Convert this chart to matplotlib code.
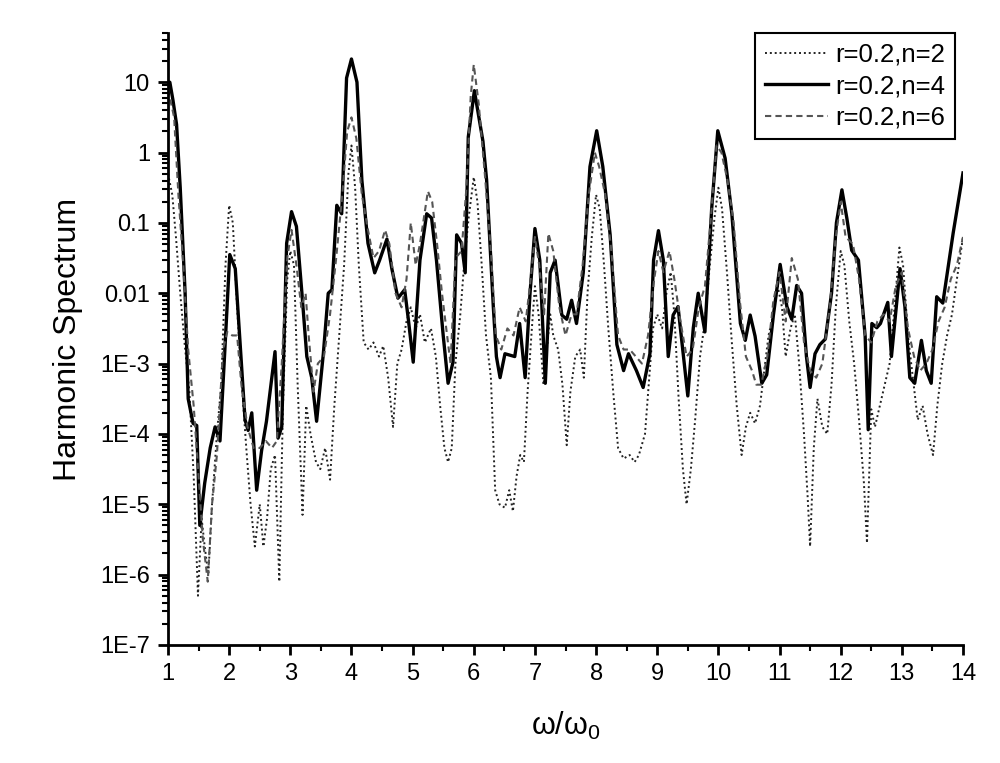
import numpy as np
import matplotlib
matplotlib.use("Agg")
import matplotlib.pyplot as plt
from matplotlib.ticker import FixedLocator, FixedFormatter, NullFormatter

plt.rcParams['font.family'] = ['Liberation Sans', 'DejaVu Sans']
plt.rcParams['mathtext.fontset'] = 'custom'
plt.rcParams['mathtext.rm'] = 'Liberation Sans'
plt.rcParams['mathtext.it'] = 'Liberation Sans'

# ---- data: x = omega/omega0, values given as log10 of harmonic spectrum
n2_x = [1.00, 1.07, 1.13, 1.20, 1.27, 1.35, 1.42, 1.49, 1.55, 1.60, 1.66, 1.72, 1.80, 1.87, 1.94,
        2.00, 2.06, 2.13, 2.20, 2.28, 2.35, 2.42, 2.50, 2.56, 2.62, 2.68, 2.75, 2.82, 2.88, 2.95,
        3.00, 3.06, 3.12, 3.20, 3.26, 3.33, 3.42, 3.49, 3.57, 3.65, 3.72, 3.80, 3.88, 3.95,
        4.00, 4.06, 4.12, 4.20, 4.28, 4.36, 4.45, 4.52, 4.60, 4.68, 4.75, 4.82, 4.90, 4.97,
        5.05, 5.12, 5.20, 5.30, 5.38, 5.45, 5.52, 5.58, 5.64, 5.70, 5.78, 5.85, 5.92,
        6.00, 6.06, 6.13, 6.20, 6.28, 6.35, 6.42, 6.51, 6.58, 6.64, 6.70, 6.76, 6.82, 6.88, 6.95,
        7.00, 7.06, 7.14, 7.25, 7.30, 7.38, 7.45, 7.52, 7.58, 7.66, 7.74, 7.80, 7.86, 7.93,
        8.00, 8.06, 8.13, 8.20, 8.28, 8.36, 8.45, 8.55, 8.63, 8.70, 8.80, 8.86, 8.93,
        9.00, 9.08, 9.15, 9.22, 9.28, 9.35, 9.42, 9.48, 9.55, 9.62, 9.70, 9.78, 9.86, 9.94,
        10.00, 10.06, 10.14, 10.22, 10.30, 10.38, 10.45, 10.52, 10.60, 10.68, 10.75, 10.82, 10.90, 10.97,
        11.04, 11.10, 11.18, 11.25, 11.32, 11.40, 11.46, 11.50, 11.56, 11.62, 11.70, 11.78, 11.85, 11.92,
        12.00, 12.06, 12.14, 12.22, 12.30, 12.38, 12.43, 12.50, 12.56, 12.64, 12.72, 12.80, 12.88, 12.96,
        13.02, 13.10, 13.18, 13.26, 13.34, 13.42, 13.51, 13.58, 13.66, 13.74, 13.82, 13.90, 14.00]
n2_exp = [-0.3, -0.6, -1.2, -2.0, -2.7, -3.4, -4.6, -6.3, -5.2, -5.6, -6.0, -5.0, -4.0, -3.3, -1.6,
          -0.75, -1.0, -2.2, -3.2, -4.2, -5.0, -5.6, -5.0, -5.6, -5.2, -4.5, -4.3, -6.1, -3.6, -1.8,
          -1.4, -1.6, -3.3, -5.15, -3.6, -4.0, -4.4, -4.5, -4.2, -4.65, -3.6, -2.6, -1.6, -0.3,
          0.1, -0.5, -1.6, -2.7, -2.8, -2.7, -2.9, -2.75, -3.2, -3.9, -3.0, -2.8, -2.4, -2.2,
          -2.5, -2.3, -2.7, -2.5, -2.9, -3.6, -4.2, -4.4, -4.2, -3.0, -2.3, -1.5, -0.9,
          -0.35, -0.7, -1.6, -2.6, -3.2, -4.8, -5.0, -5.05, -4.8, -5.1, -4.6, -4.3, -4.4, -3.4, -2.5,
          -1.9, -2.3, -3.3, -2.3, -2.6, -2.8, -3.3, -4.16, -3.4, -2.9, -2.8, -3.2, -2.0, -1.2,
          -0.6, -0.8, -1.6, -2.5, -3.4, -4.2, -4.35, -4.3, -4.4, -4.3, -4.0, -3.3, -2.5,
          -2.3, -2.5, -2.0, -1.7, -2.3, -3.5, -4.5, -5.0, -4.5, -3.8, -2.9, -2.4, -1.6, -0.9,
          -0.5, -0.8, -1.7, -2.7, -3.6, -4.3, -3.9, -3.7, -3.85, -3.6, -3.1, -2.6, -2.3, -1.9,
          -2.2, -2.9, -2.5, -2.3, -3.0, -4.0, -4.9, -5.6, -4.2, -3.5, -3.9, -4.0, -3.3, -2.2,
          -1.4, -1.6, -2.4, -3.0, -3.8, -4.7, -5.55, -3.65, -3.9, -3.6, -3.3, -3.0, -2.2, -1.35,
          -1.6, -2.6, -3.2, -3.8, -3.6, -4.0, -4.3, -3.6, -3.0, -2.6, -2.3, -1.8, -1.2]

n4_x = [1.00, 1.03, 1.08, 1.14, 1.20, 1.28, 1.33, 1.41, 1.47, 1.52, 1.60, 1.69, 1.77, 1.85, 1.93,
        2.01, 2.10, 2.18, 2.26, 2.31, 2.37, 2.45, 2.53, 2.61, 2.75, 2.80, 2.86, 2.94,
        3.02, 3.10, 3.19, 3.27, 3.35, 3.43, 3.54, 3.62, 3.68, 3.76, 3.84, 3.92,
        4.00, 4.09, 4.17, 4.27, 4.38, 4.46, 4.58, 4.66, 4.76, 4.87, 4.93,
        5.01, 5.12, 5.23, 5.31, 5.39, 5.50, 5.58, 5.66, 5.72, 5.80, 5.86, 5.91,
        6.01, 6.15, 6.21, 6.32, 6.37, 6.43, 6.51, 6.67, 6.75, 6.84, 6.92,
        7.00, 7.08, 7.17, 7.25, 7.33, 7.44, 7.52, 7.60, 7.68, 7.79, 7.90,
        8.01, 8.11, 8.23, 8.34, 8.45, 8.53, 8.66, 8.77, 8.88, 8.94,
        9.02, 9.10, 9.18, 9.26, 9.34, 9.50, 9.59, 9.67, 9.78, 9.89,
        9.99, 10.11, 10.22, 10.36, 10.44, 10.52, 10.60, 10.71, 10.79, 10.90,
        11.01, 11.12, 11.20, 11.28, 11.36, 11.44, 11.50, 11.58, 11.66, 11.75, 11.85, 11.93,
        12.02, 12.10, 12.18, 12.29, 12.40, 12.45, 12.51, 12.59, 12.65, 12.77, 12.83, 12.97,
        13.05, 13.13, 13.21, 13.32, 13.40, 13.48, 13.57, 13.67, 13.84, 14.00]
n4_exp = [1.0, 1.0, 0.75, 0.4, -0.5, -2.0, -3.5, -3.85, -3.88, -5.3, -4.7, -4.2, -3.9, -4.1, -2.8,
          -1.45, -1.65, -2.73, -3.8, -3.95, -3.7, -4.8, -4.24, -3.82, -2.83, -4.06, -3.9, -1.29,
          -0.84, -1.05, -2.0, -2.9, -3.2, -3.82, -2.86, -2.0, -1.95, -0.75, -0.87, 1.06,
          1.33, 1.0, -0.39, -1.29, -1.71, -1.53, -1.23, -1.65, -2.07, -1.95, -2.37,
          -2.98, -1.53, -0.87, -0.93, -1.53, -2.6, -3.28, -2.98, -1.17, -1.29, -1.71, 0.22,
          0.88, 0.16, -0.39, -2.2, -2.9, -3.2, -2.86, -2.9, -2.43, -3.2, -2.0,
          -1.08, -1.53, -3.28, -1.71, -1.53, -2.31, -2.37, -2.1, -2.43, -1.71, -0.2,
          0.31, -0.2, -1.17, -2.73, -3.1, -2.86, -3.1, -3.34, -2.86, -1.53,
          -1.11, -1.53, -2.9, -2.31, -2.19, -3.46, -2.49, -2.0, -2.55, -0.8,
          0.31, -0.08, -0.87, -2.43, -2.67, -2.31, -2.61, -3.28, -3.16, -2.31,
          -1.59, -2.19, -2.37, -1.89, -2.0, -2.9, -3.34, -2.86, -2.73, -2.65, -2.0, -1.0,
          -0.53, -0.93, -1.39, -1.53, -2.61, -3.94, -2.43, -2.49, -2.43, -2.13, -2.9, -1.65,
          -2.19, -3.2, -3.28, -2.67, -3.1, -3.28, -2.05, -2.14, -1.14, -0.29]

n6_x = [1.00, 1.10, 1.17, 1.25, 1.33, 1.42, 1.50, 1.57, 1.65, 1.72, 1.80, 1.90, 1.97,
        2.05, 2.13, 2.20, 2.30, 2.40, 2.50, 2.60, 2.70, 2.78, 2.86, 2.95,
        3.02, 3.10, 3.18, 3.25, 3.30, 3.38, 3.45, 3.55, 3.65, 3.75, 3.85, 3.93,
        4.00, 4.08, 4.17, 4.27, 4.36, 4.45, 4.55, 4.62, 4.72, 4.82, 4.90, 4.97,
        5.05, 5.12, 5.25, 5.32, 5.40, 5.48, 5.55, 5.62, 5.70, 5.80, 5.88, 5.95,
        6.00, 6.08, 6.18, 6.28, 6.36, 6.45, 6.55, 6.65, 6.75, 6.85, 6.93,
        7.00, 7.07, 7.15, 7.22, 7.30, 7.40, 7.50, 7.60, 7.68, 7.78, 7.88, 7.98,
        8.05, 8.15, 8.25, 8.36, 8.45, 8.55, 8.65, 8.75, 8.85, 8.95,
        9.02, 9.10, 9.20, 9.28, 9.38, 9.48, 9.58, 9.68, 9.78, 9.88, 9.97,
        10.05, 10.15, 10.25, 10.35, 10.45, 10.55, 10.62, 10.70, 10.80, 10.90,
        11.00, 11.10, 11.20, 11.30, 11.40, 11.50, 11.60, 11.70, 11.82, 11.92,
        12.00, 12.08, 12.20, 12.30, 12.40, 12.50, 12.60, 12.70, 12.80, 12.90,
        13.00, 13.10, 13.20, 13.30, 13.40, 13.50, 13.60, 13.70, 13.80, 13.90, 14.00]
n6_exp = [0.9, 0.5, -0.6, -1.6, -2.8, -3.6, -4.6, -5.5, -6.1, -5.0, -4.3, -2.8, -2.55,
          -2.6, -2.6, -3.3, -3.9, -4.2, -4.2, -4.1, -4.2, -4.1, -3.0, -1.5,
          -1.1, -1.6, -2.2, -2.0, -2.6, -3.4, -3.0, -2.9, -2.3, -1.5, -0.6, 0.3,
          0.5, 0.2, -0.6, -1.1, -1.5, -1.4, -1.1, -1.3, -2.0, -2.2, -1.8, -1.0,
          -1.6, -1.3, -0.55, -0.7, -1.3, -2.0, -2.5, -3.0, -1.5, -1.4, -0.5, 0.8,
          1.25, 0.7, -0.3, -1.4, -2.6, -2.8, -2.5, -2.6, -2.2, -2.4, -1.8,
          -1.2, -1.6, -2.3, -1.15, -1.4, -2.2, -2.6, -2.3, -2.3, -1.6, -0.6, 0.0,
          -0.2, -0.6, -1.4, -2.6, -2.8, -2.8, -2.9, -3.0, -2.6, -1.8,
          -1.4, -1.7, -1.4, -1.8, -2.4, -2.9, -2.8, -2.2, -1.9, -0.9, 0.1,
          0.0, -0.4, -1.0, -2.1, -2.9, -3.1, -3.3, -3.3, -2.9, -2.1,
          -1.7, -2.4, -1.5, -1.8, -2.7, -3.1, -3.2, -3.0, -2.2, -1.2,
          -0.7, -1.2, -1.3, -1.8, -2.6, -2.7, -2.4, -2.3, -2.4, -1.9,
          -1.7, -2.5, -2.9, -3.1, -3.0, -2.8, -2.4, -2.2, -1.8, -1.6, -1.2]

series_labels = ["r=0.2,n=2", "r=0.2,n=4", "r=0.2,n=6"]
x_ticks = list(range(1, 15))
y_tick_vals = [1e-7, 1e-6, 1e-5, 1e-4, 1e-3, 1e-2, 1e-1, 1, 10]
y_tick_labels = ["1E-7", "1E-6", "1E-5", "1E-4", "1E-3", "0.01", "0.1", "1", "10"]

fig = plt.figure(figsize=(10, 7.63), dpi=100)
ax = fig.add_axes([0.168, 0.1547, 0.795, 0.802])

ax.plot(n2_x, np.power(10.0, n2_exp), color='#222222', lw=1.4, ls=(0, (1, 1.5)),
        label=series_labels[0])
ax.plot(n4_x, np.power(10.0, n4_exp), color='black', lw=2.4, ls='-',
        label=series_labels[1])
ax.plot(n6_x, np.power(10.0, n6_exp), color='#555555', lw=1.5, ls=(0, (3, 2)),
        label=series_labels[2])

ax.set_yscale('log')
ax.set_xlim(1, 14)
ax.set_ylim(1e-7, 50)

ax.xaxis.set_major_locator(FixedLocator(x_ticks))
ax.xaxis.set_major_formatter(FixedFormatter([str(v) for v in x_ticks]))
ax.xaxis.set_minor_locator(FixedLocator([v + 0.5 for v in x_ticks[:-1]]))

ax.yaxis.set_major_locator(FixedLocator(y_tick_vals))
ax.yaxis.set_major_formatter(FixedFormatter(y_tick_labels))
minors = []
for d in y_tick_vals:
    for m in range(2, 10):
        if d * m <= 50:
            minors.append(d * m)
ax.yaxis.set_minor_locator(FixedLocator(minors))
ax.yaxis.set_minor_formatter(NullFormatter())

for s in ['top', 'right']:
    ax.spines[s].set_visible(False)
for s in ['left', 'bottom']:
    ax.spines[s].set_linewidth(2.0)

ax.tick_params(axis='both', which='major', direction='out', length=7, width=2,
               labelsize=17, pad=6)
ax.tick_params(axis='both', which='minor', direction='out', length=4, width=1.5)

ax.set_ylabel("Harmonic Spectrum", fontsize=23, labelpad=12)
ax.set_xlabel(r"$\mathregular{\omega/\omega_0}$", fontsize=22, labelpad=18)

leg = ax.legend(loc='upper right', bbox_to_anchor=(0.99, 1.0), fontsize=18.5,
                frameon=True, fancybox=False, edgecolor='black', framealpha=1,
                handlelength=2.45, handletextpad=0.3, labelspacing=0.29, borderpad=0.38,
                borderaxespad=0.0)
leg.get_frame().set_linewidth(1.5)

fig.savefig("out.png", dpi=100)
